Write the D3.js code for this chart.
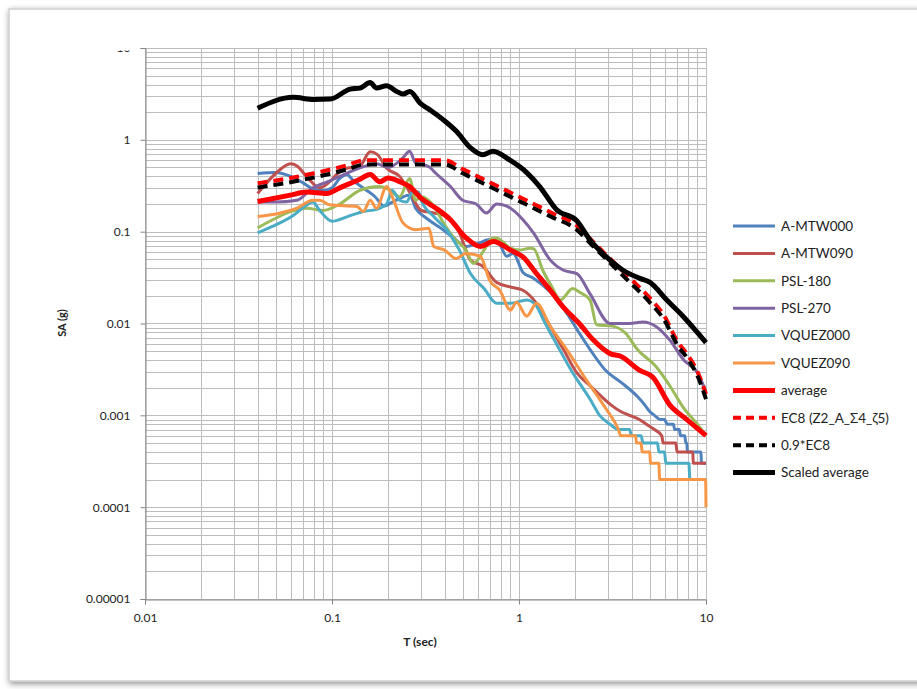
<!DOCTYPE html>
<html>
<head>
<meta charset="utf-8">
<script src="https://cdn.jsdelivr.net/npm/d3@7"></script>
<style>
  body { margin: 0; background: #fff; }
  svg { display: block; }
</style>
</head>
<body>
<svg id="chart"></svg>
<script>
// tick labels
var xTicks = [0.01, 0.1, 1, 10];
var yTicks = [0.00001, 0.0001, 0.001, 0.01, 0.1, 1, 10];
var xTickLabels = ["0.01", "0.1", "1", "10"];
var yTickLabels = ["0.00001", "0.0001", "0.001", "0.01", "0.1", "1", "10"];

// series names (legend order)
var seriesNames = ["A-MTW000", "A-MTW090", "PSL-180", "PSL-270", "VQUEZ000", "VQUEZ090",
  "average", "EC8 (Z2_A_\u03a34_\u03b65)", "0.9*EC8", "Scaled average"];

// [T (sec), SA (g)]
var mtw000 = [[0.04,0.43],[0.05,0.44],[0.06,0.40],[0.07,0.34],[0.08,0.29],[0.09,0.28],[0.1,0.30],[0.11,0.38],[0.12,0.42],[0.13,0.36],[0.15,0.29],[0.17,0.24],[0.19,0.19],[0.21,0.21],[0.23,0.23],[0.26,0.25],[0.28,0.18],[0.32,0.14],[0.38,0.11],[0.44,0.088],[0.52,0.069],[0.6,0.074],[0.7,0.082],[0.78,0.075],[0.86,0.054],[0.93,0.058],[1.05,0.036],[1.2,0.031],[1.47,0.022],[1.8,0.013],[2.05,0.0085],[2.4,0.0052],[2.9,0.0031],[3.5,0.0023],[4.3,0.0016],[4.7,0.0013],[5.0,0.0011],[5.3,0.0010],[5.7,0.0009],[6.0,0.0009],[6.2,0.0008],[6.7,0.0008],[6.8,0.0007],[7.2,0.0007],[7.3,0.0006],[7.7,0.0006],[7.8,0.0005],[7.9,0.0005],[7.95,0.0004],[9.4,0.0004],[9.45,0.0003],[10,0.0003]];
var mtw090 = [[0.04,0.26],[0.05,0.43],[0.06,0.55],[0.065,0.52],[0.073,0.40],[0.086,0.30],[0.1,0.37],[0.106,0.42],[0.12,0.49],[0.14,0.51],[0.16,0.74],[0.175,0.69],[0.196,0.49],[0.23,0.40],[0.26,0.27],[0.3,0.17],[0.35,0.16],[0.41,0.145],[0.48,0.097],[0.55,0.049],[0.64,0.042],[0.76,0.028],[0.9,0.025],[1.05,0.023],[1.24,0.0166],[1.47,0.0093],[1.73,0.0052],[2.04,0.0029],[2.4,0.0021],[2.6,0.0018],[3.1,0.0013],[3.5,0.0011],[3.9,0.0010],[4.4,0.0009],[4.8,0.0008],[5.3,0.0007],[5.8,0.0006],[5.9,0.0005],[6.9,0.0005],[7.0,0.0004],[8.5,0.0004],[8.55,0.0003],[10,0.0003]];
var psl180 = [[0.04,0.11],[0.05,0.14],[0.06,0.165],[0.073,0.18],[0.09,0.17],[0.11,0.20],[0.14,0.28],[0.18,0.31],[0.2,0.29],[0.23,0.24],[0.26,0.38],[0.28,0.22],[0.3,0.24],[0.35,0.19],[0.39,0.13],[0.45,0.085],[0.52,0.063],[0.57,0.045],[0.65,0.063],[0.72,0.085],[0.76,0.085],[0.9,0.066],[1.0,0.063],[1.15,0.066],[1.2,0.065],[1.34,0.038],[1.5,0.025],[1.66,0.018],[1.94,0.024],[2.1,0.022],[2.4,0.018],[2.6,0.0097],[3.2,0.0093],[3.7,0.0079],[4.3,0.0052],[5.4,0.0034],[6.4,0.0021],[7.6,0.0012],[9,0.0008],[10,0.0006]];
var psl270 = [[0.04,0.21],[0.05,0.21],[0.065,0.22],[0.079,0.30],[0.095,0.35],[0.11,0.40],[0.147,0.51],[0.173,0.55],[0.2,0.50],[0.24,0.64],[0.26,0.75],[0.28,0.56],[0.33,0.51],[0.36,0.43],[0.43,0.31],[0.5,0.22],[0.59,0.20],[0.67,0.16],[0.76,0.20],[0.86,0.19],[1.05,0.135],[1.2,0.096],[1.47,0.049],[1.73,0.038],[2.04,0.035],[2.4,0.021],[3.07,0.010],[3.9,0.010],[4.6,0.0104],[5.4,0.0093],[6.4,0.0066],[7.6,0.0040],[9,0.0029],[10,0.0018]];
var vquez000 = [[0.04,0.097],[0.048,0.114],[0.062,0.15],[0.072,0.19],[0.079,0.21],[0.086,0.17],[0.1,0.13],[0.12,0.145],[0.147,0.166],[0.173,0.175],[0.196,0.20],[0.21,0.28],[0.23,0.22],[0.25,0.21],[0.27,0.27],[0.29,0.27],[0.3,0.22],[0.35,0.146],[0.41,0.105],[0.48,0.063],[0.55,0.035],[0.65,0.024],[0.76,0.0166],[0.9,0.0166],[1.1,0.018],[1.24,0.0155],[1.35,0.011],[1.6,0.0058],[1.9,0.0031],[2.4,0.0015],[2.7,0.0010],[3.07,0.0008],[3.4,0.0007],[3.9,0.0007],[4.0,0.0006],[4.5,0.0006],[4.6,0.0005],[5.5,0.0005],[5.6,0.0004],[6.0,0.0004],[6.1,0.0003],[8.1,0.0003],[8.2,0.0002],[10,0.0002]];
var vquez090 = [[0.04,0.146],[0.053,0.16],[0.065,0.18],[0.079,0.22],[0.086,0.22],[0.097,0.196],[0.136,0.188],[0.147,0.166],[0.16,0.22],[0.173,0.18],[0.196,0.31],[0.21,0.24],[0.24,0.124],[0.28,0.105],[0.33,0.109],[0.35,0.069],[0.4,0.063],[0.46,0.051],[0.52,0.058],[0.62,0.054],[0.7,0.029],[0.79,0.023],[0.9,0.014],[0.97,0.017],[1.1,0.012],[1.24,0.0166],[1.47,0.0093],[1.8,0.0052],[2.3,0.0024],[2.9,0.0012],[3.4,0.0007],[3.5,0.0006],[4.2,0.0006],[4.25,0.0005],[4.5,0.0005],[4.55,0.0004],[5.0,0.0004],[5.05,0.0003],[5.6,0.0003],[5.65,0.0002],[9.95,0.0002],[10,0.0001]];
var average = [[0.04,0.213],[0.06,0.25],[0.073,0.27],[0.094,0.26],[0.11,0.30],[0.14,0.37],[0.16,0.42],[0.18,0.35],[0.2,0.385],[0.23,0.35],[0.26,0.31],[0.3,0.23],[0.36,0.18],[0.43,0.135],[0.52,0.086],[0.62,0.069],[0.73,0.078],[0.9,0.063],[1.05,0.053],[1.24,0.035],[1.47,0.023],[1.73,0.015],[2.1,0.010],[2.5,0.0066],[3.07,0.0047],[3.5,0.0044],[4.4,0.0031],[5.2,0.0026],[6.4,0.0013],[7.9,0.0009],[10,0.0006]];
var ec8 = [[0.04,0.336],[0.06,0.384],[0.08,0.432],[0.1,0.48],[0.12,0.528],[0.15,0.6],[0.2,0.6],[0.3,0.6],[0.4,0.6],[0.5,0.48],[0.6,0.4],[0.7,0.343],[0.8,0.3],[1,0.24],[1.2,0.2],[1.5,0.16],[2,0.12],[2.5,0.077],[3,0.053],[3.5,0.039],[4,0.03],[5,0.019],[6,0.012],[7,0.0065],[8,0.0045],[9,0.003],[10,0.0017]];
var ec8x09 = [[0.04,0.302],[0.06,0.346],[0.08,0.389],[0.1,0.432],[0.12,0.475],[0.15,0.54],[0.2,0.54],[0.3,0.54],[0.4,0.54],[0.5,0.432],[0.6,0.36],[0.7,0.309],[0.8,0.27],[1,0.216],[1.2,0.18],[1.5,0.144],[2,0.108],[2.5,0.069],[3,0.048],[3.5,0.035],[4,0.027],[5,0.017],[6,0.0108],[7,0.0059],[8,0.0041],[9,0.0027],[10,0.0015]];
var scaledAverage = [[0.04,2.21],[0.062,2.9],[0.08,2.75],[0.098,2.78],[0.125,3.57],[0.141,3.66],[0.16,4.2],[0.173,3.66],[0.196,3.87],[0.222,3.36],[0.24,3.15],[0.261,3.36],[0.296,2.51],[0.334,2.12],[0.394,1.65],[0.464,1.23],[0.547,0.83],[0.641,0.69],[0.726,0.75],[0.895,0.6],[1.1,0.44],[1.29,0.31],[1.59,0.173],[2.04,0.131],[2.4,0.081],[3.07,0.049],[3.6,0.038],[4.43,0.031],[5.02,0.028],[6.17,0.018],[7.53,0.012],[10,0.0062]];

var seriesData = [mtw000, mtw090, psl180, psl270, vquez000, vquez090, average, ec8, ec8x09, scaledAverage];
var seriesColors = ["#4F81BD", "#C0504D", "#9BBB59", "#8064A2", "#4BACC6", "#F79646", "#FF0000", "#FF0000", "#000000", "#000000"];
var seriesWidths = [3, 3, 3, 3, 3, 3, 5, 4, 4, 5];
var seriesDash = [null, null, null, null, null, null, null, "10,6", "10,6", null];

var width = 917, height = 689;
var plot = {left: 145, right: 706, top: 48, bottom: 599};

var svg = d3.select("#chart")
  .attr("width", width)
  .attr("height", height);

var defs = svg.append("defs");
var shadow = defs.append("filter").attr("id", "shadow")
  .attr("x", "-5%").attr("y", "-5%").attr("width", "110%").attr("height", "110%");
shadow.append("feGaussianBlur").attr("in", "SourceAlpha").attr("stdDeviation", 3).attr("result", "b");
shadow.append("feOffset").attr("in", "b").attr("dx", 1).attr("dy", 2).attr("result", "o");
shadow.append("feComponentTransfer").attr("in", "o").attr("result", "s")
  .append("feFuncA").attr("type", "linear").attr("slope", 0.45);
var merge = shadow.append("feMerge");
merge.append("feMergeNode").attr("in", "s");
merge.append("feMergeNode").attr("in", "SourceGraphic");

// clip in the tick's own coordinates (tick group sits at y of "10"), only the bottom sliver shows
defs.append("clipPath").attr("id", "topclip")
  .append("rect").attr("x", -200).attr("y", 2).attr("width", 200).attr("height", 20);
defs.append("clipPath").attr("id", "legclip")
  .append("rect").attr("x", 720).attr("y", 0).attr("width", 169).attr("height", height);

// frame
svg.append("rect")
  .attr("x", 9).attr("y", 9).attr("width", 930).attr("height", 672)
  .attr("fill", "#fff")
  .attr("stroke", "#cfcfcf").attr("stroke-width", 1.5)
  .attr("filter", "url(#shadow)");

var x = d3.scaleLog().domain([0.01, 10]).range([plot.left, plot.right]);
var y = d3.scaleLog().domain([0.00001, 10]).range([plot.bottom, plot.top]);

// grid
var g = svg.append("g");
var xGrid = [], yGrid = [];
[0.01, 0.1, 1].forEach(function(d) { for (var k = 1; k <= 10; k++) xGrid.push(d * k); });
[0.00001, 0.0001, 0.001, 0.01, 0.1, 1].forEach(function(d) { for (var k = 1; k <= 10; k++) yGrid.push(d * k); });

g.selectAll(".vg").data(xGrid).enter().append("line")
  .attr("x1", function(d) { return Math.round(x(d)) + 0.5; })
  .attr("x2", function(d) { return Math.round(x(d)) + 0.5; })
  .attr("y1", plot.top).attr("y2", plot.bottom)
  .attr("stroke", "#bdbdbd").attr("stroke-width", 1);
g.selectAll(".hg").data(yGrid).enter().append("line")
  .attr("y1", function(d) { return Math.round(y(d)) + 0.5; })
  .attr("y2", function(d) { return Math.round(y(d)) + 0.5; })
  .attr("x1", plot.left).attr("x2", plot.right)
  .attr("stroke", "#bdbdbd").attr("stroke-width", 1);

// axes
var xAxis = svg.append("g")
  .attr("transform", "translate(0," + (plot.bottom + 0.5) + ")")
  .call(d3.axisBottom(x).tickValues(xTicks)
    .tickFormat(function(d, i) { return xTickLabels[i]; })
    .tickSize(5).tickPadding(9));
var yAxis = svg.append("g")
  .attr("transform", "translate(" + (plot.left + 0.5) + ",0)")
  .call(d3.axisLeft(y).tickValues(yTicks)
    .tickFormat(function(d, i) { return yTickLabels[i]; })
    .tickSize(5).tickPadding(10));
[xAxis, yAxis].forEach(function(a) {
  a.select(".domain").attr("stroke", "#868686");
  a.selectAll(".tick line").attr("stroke", "#868686");
  a.selectAll("text").style("font-family", "Lato, 'Open Sans', sans-serif")
    .style("font-size", "12px").attr("fill", "#222");
});
yAxis.selectAll(".tick").filter(function(d) { return d === 10; })
  .select("text").attr("clip-path", "url(#topclip)");

svg.append("text")
  .attr("x", 420).attr("y", 646)
  .attr("text-anchor", "middle")
  .style("font-family", "Lato, 'Open Sans', sans-serif")
  .style("font-size", "12px").style("font-weight", "bold")
  .attr("fill", "#222")
  .text("T (sec)");
svg.append("text")
  .attr("transform", "translate(66,323)rotate(-90)")
  .attr("text-anchor", "middle")
  .style("font-family", "Lato, 'Open Sans', sans-serif")
  .style("font-size", "11px").style("font-weight", "bold")
  .attr("fill", "#222")
  .text("SA (g)");

// lines
var line = d3.line()
  .x(function(d) { return x(d[0]); })
  .y(function(d) { return y(d[1]); })
  .curve(d3.curveMonotoneX);

svg.append("g").selectAll("path")
  .data(seriesData)
  .enter().append("path")
  .attr("d", line)
  .attr("fill", "none")
  .attr("stroke", function(d, i) { return seriesColors[i]; })
  .attr("stroke-width", function(d, i) { return seriesWidths[i]; })
  .attr("stroke-dasharray", function(d, i) { return seriesDash[i]; })
  .attr("stroke-linejoin", "round");

// legend
var legend = svg.append("g").attr("clip-path", "url(#legclip)");
var leg = legend.selectAll("g")
  .data(seriesNames)
  .enter().append("g")
  .attr("transform", function(d, i) { return "translate(733," + (226 + i * 27.4) + ")"; });
leg.append("line")
  .attr("x1", 0).attr("x2", 42)
  .attr("stroke", function(d, i) { return seriesColors[i]; })
  .attr("stroke-width", function(d, i) { return seriesWidths[i]; })
  .attr("stroke-dasharray", function(d, i) { return seriesDash[i] ? "8,5" : null; });
leg.append("text")
  .attr("x", 48).attr("dy", "0.35em")
  .style("font-family", "Lato, 'Open Sans', sans-serif")
  .style("font-size", "13.5px")
  .attr("fill", "#222")
  .text(function(d) { return d; });
</script>
</body>
</html>
